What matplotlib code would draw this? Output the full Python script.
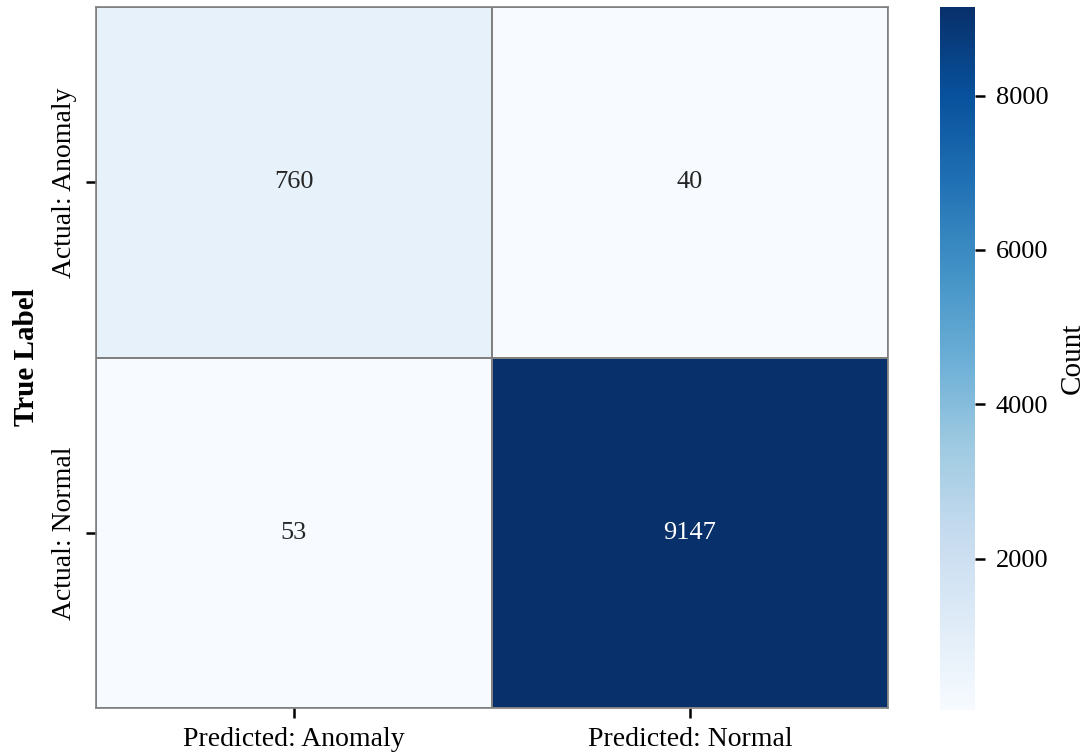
import numpy as np
import matplotlib
matplotlib.use("Agg")
import matplotlib.pyplot as plt
import seaborn as sns

plt.rcParams['font.family'] = ['Liberation Serif', 'DejaVu Serif']

# confusion matrix counts
row_labels = ["Actual: Anomaly", "Actual: Normal"]
col_labels = ["Predicted: Anomaly", "Predicted: Normal"]
counts = np.array([[760, 40],
                   [53, 9147]])

fig = plt.figure(figsize=(10.89, 7.56), dpi=100)
ax = fig.add_axes([96 / 1089, 48 / 756, 792 / 1089, 701 / 756])
cax = fig.add_axes([940 / 1089, 46 / 756, 35 / 1089, 703 / 756])

sns.heatmap(counts, annot=True, fmt="d", cmap="Blues",
            linewidths=1.2, linecolor="gray",
            xticklabels=col_labels, yticklabels=row_labels,
            annot_kws={"size": 19},
            ax=ax, cbar_ax=cax, cbar_kws={"label": "Count"})

for side in ax.spines.values():
    side.set_visible(True)
    side.set_edgecolor("gray")
    side.set_linewidth(1.2)

ax.set_ylabel("True Label", fontsize=21, fontweight="bold", labelpad=8)
ax.tick_params(axis="both", length=7, width=1.8, labelsize=20, pad=7, color="black")
plt.setp(ax.get_yticklabels(), rotation=90, va="center")
plt.setp(ax.get_xticklabels(), rotation=0)

cax.tick_params(length=7, width=1.8, labelsize=19, pad=8)
cax.set_yticks([2000, 4000, 6000, 8000])
cax.set_ylabel("Count", fontsize=21, labelpad=8)
for side in cax.spines.values():
    side.set_visible(False)

fig.savefig("out.png", dpi=100)
